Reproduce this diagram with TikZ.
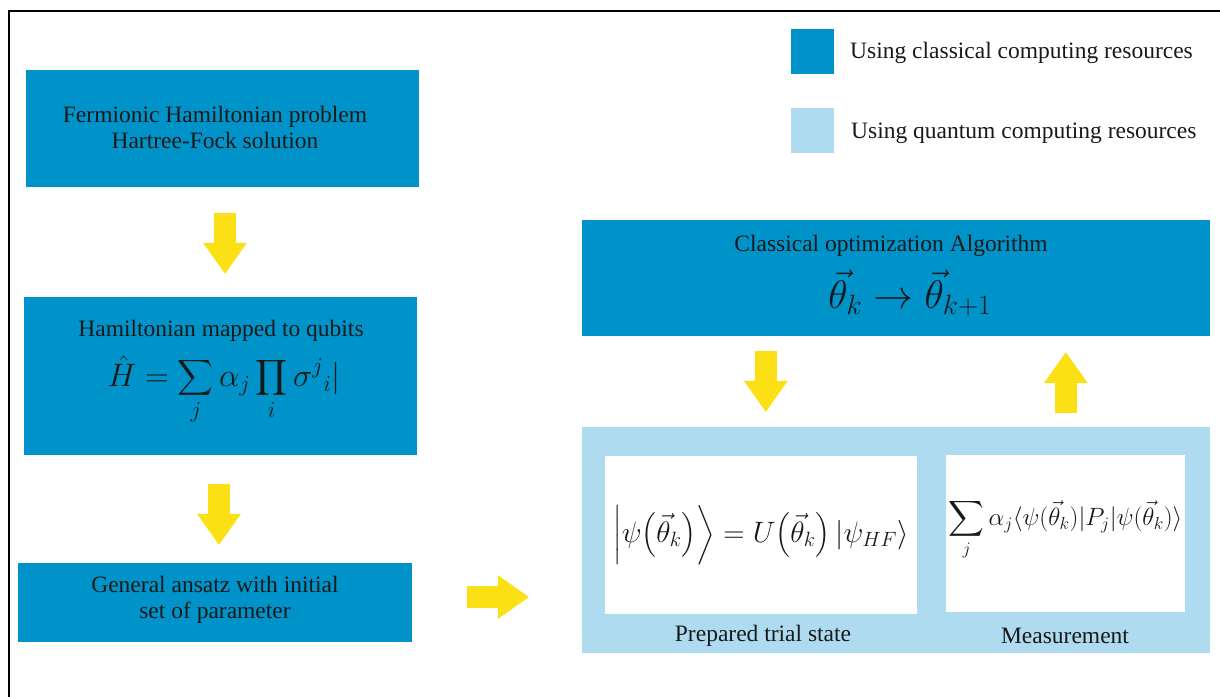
\RequirePackage{fix-cm}
\documentclass[tikz,border=0pt]{standalone}
\usepackage{amsmath}
\usepackage{fontspec}
\setmainfont{Liberation Serif}
\usetikzlibrary{arrows.meta,calc}
\definecolor{classic}{RGB}{0,147,201}
\definecolor{quantum}{RGB}{174,219,240}
\definecolor{flow}{RGB}{250,224,20}
\definecolor{ink}{RGB}{25,25,25}

\begin{document}
\begin{tikzpicture}[x=1pt,y=-1pt,
  txt/.style={font=\fontsize{23.5}{26}\selectfont, text=ink, inner sep=0pt, align=center},
  cbox/.style={fill=classic, inner sep=0pt, draw=none},
  qbox/.style={fill=quantum, inner sep=0pt, draw=none},
  wbox/.style={fill=white, inner sep=0pt, draw=none},
  flowarrow/.style={draw=flow, line width=22pt,
    -{Triangle[width=44pt,length=31pt,line width=0pt]}}]
\useasboundingbox (0,0) rectangle (1220,696);

% outer frame (left and top edges)
\draw[line width=2pt] (9,700) -- (9,11) -- (1225,11);

% legend
\node[cbox, minimum width=43pt, minimum height=45pt] (lg1) at (812.5,51.5) {};
\node[qbox, minimum width=43pt, minimum height=45pt] (lg2) at (812.5,130.5) {};
\node[txt, anchor=west] (lt1) at (850,53) {Using classical computing resources};
\node[txt, anchor=west] (lt2) at (851,133) {Using quantum computing resources};

% left column (classical preprocessing)
\node[cbox, minimum width=393pt, minimum height=117pt] (b1) at (222.5,128.5) {};
\node[txt] (b1t) at (215,127) {Fermionic Hamiltonian problem\\Hartree-Fock solution};

\node[cbox, minimum width=393pt, minimum height=158pt] (b2) at (220.5,376) {};
\node[txt] (b2t) at (221,331) {Hamiltonian mapped to qubits};
\node[txt, font=\fontsize{32.5}{36}\selectfont] (b2m) at (224,390)
  {$\displaystyle \hat{H} = \sum_{j} \alpha_j \prod_{i} \sigma^{j}{}_{i}|$};

\node[cbox, minimum width=394pt, minimum height=79pt] (b3) at (215,602.5) {};
\node[txt] (b3t) at (215,600) {General ansatz with initial\\set of parameter};

% right column: optimisation loop
\node[cbox, minimum width=628pt, minimum height=116pt] (bo) at (896,278) {};
\node[txt] (bot) at (891,246) {Classical optimization Algorithm};
\node[txt, font=\fontsize{40}{44}\selectfont] (bom) at (910,293)
  {$\vec{\theta}_k \rightarrow \vec{\theta}_{k+1}$};

\node[qbox, minimum width=628pt, minimum height=226pt] (bq) at (896,540) {};
\node[wbox, minimum width=312pt, minimum height=158pt] (wl) at (761,535) {};
\node[wbox, minimum width=239pt, minimum height=157pt] (wr) at (1065.5,533.5) {};
\node[txt, font=\fontsize{29.5}{34}\selectfont] (wlm) at (761,535)
  {$\Bigl|\psi\bigl(\vec{\theta}_k\bigr)\Bigr\rangle = U\bigl(\vec{\theta}_k\bigr)\,|\psi_{HF}\rangle$};
\node[txt, font=\fontsize{25}{30}\selectfont] (wrm) at (1065.5,530)
  {$\displaystyle\sum_{j}\alpha_j\langle\psi(\vec{\theta}_k)|P_j|\psi(\vec{\theta}_k)\rangle$};
\node[txt] (wlt) at (763,636) {Prepared trial state};
\node[txt] (wrt) at (1065,636) {Measurement};

% block arrows between the stages
\path ($(b1.south)+(2.5,26)$) coordinate (a1s) ($(b2.north)+(0,-23)$) coordinate (a1e);
\draw[flowarrow] (a1s) -- (a1s |- a1e);

\path ($(b2.south)+(-1.5,29)$) coordinate (a2s) ($(b3.north)+(0,-18)$) coordinate (a2e);
\draw[flowarrow] (a2s) -- (a2s |- a2e);

\path ($(b3.east)+(55,-5.5)$) coordinate (a3s) ($(bq.west)+(-53,0)$) coordinate (a3e);
\draw[flowarrow] (a3s) -- (a3s -| a3e);

\path ($(bo.south west)+(184,15)$) coordinate (a4s) ($(bq.north)+(0,-15)$) coordinate (a4e);
\draw[flowarrow] (a4s) -- (a4s |- a4e);

\path ($(bq.north west)+(484,-14)$) coordinate (a5s) ($(bo.south)+(0,16)$) coordinate (a5e);
\draw[flowarrow] (a5s) -- (a5s |- a5e);
\end{tikzpicture}
\end{document}
